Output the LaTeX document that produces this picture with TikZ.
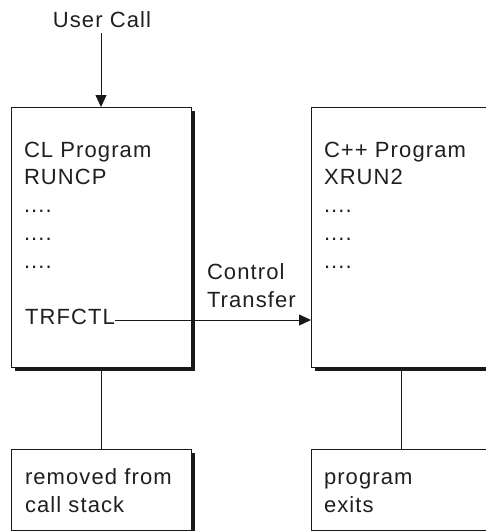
\documentclass[tikz,border=0pt]{standalone}
\usepackage{fontspec}
\setmainfont{Liberation Sans}[LetterSpace=5]
\usetikzlibrary{arrows.meta, shadows}

\begin{document}
\begin{tikzpicture}[x=1pt, y=-1pt, line width=.8pt,
    progbox/.style={draw=black!90, fill=white, inner sep=0pt, anchor=north west,
        minimum width=180pt,
        drop shadow={shadow xshift=4pt, shadow yshift=-4pt, fill=black!90, opacity=1}},
    boxtext/.style={inner sep=0pt, outer sep=0pt, align=left, text=black!88,
        font=\fontsize{22}{27.7}\selectfont},
    tip/.style={-{Triangle[length=12pt, width=11pt]}}]
\useasboundingbox (0,0) rectangle (486,531);
% the two programs
\node[progbox, minimum height=260pt] (clbox) at (11,107) {};
\node[progbox, minimum height=260pt] (cppbox) at (311,107) {};
% what happens after
\node[progbox, minimum height=81pt] (removed) at (11,449) {};
\node[progbox, minimum height=81pt] (exits) at (311,449) {};

% base of a text block is its last line
\node[boxtext, anchor=base west] (cltext) at (24,268) {CL Program\\RUNCP\\....\\....\\....};
\node[boxtext, anchor=base west] (trfctl) at (25,324) {TRFCTL};
\node[boxtext, anchor=base west] (cpptext) at (324,268) {C++ Program\\XRUN2\\....\\....\\....};
\node[boxtext, anchor=base west] (removedtext) at (25,512) {removed from\\call stack};
\node[boxtext, anchor=base west] (exitstext) at (324,512) {program\\exits};
\node[boxtext, anchor=base west] (transfer) at (207,307) {Control\\Transfer};
\node[boxtext, anchor=base] (usercall) at (102,27) {User Call};

\coordinate (callend) at (101,33);
\draw[tip, black!90] (callend) -- (callend |- clbox.north);
\coordinate (trfend) at ([yshift=4pt]trfctl.base east);
\draw[tip, black!90] (trfend) -- (trfend -| cppbox.west);
\draw[black!90] (clbox.south) -- (removed.north);
\draw[black!90] (cppbox.south) -- (exits.north);

\end{tikzpicture}
\end{document}
